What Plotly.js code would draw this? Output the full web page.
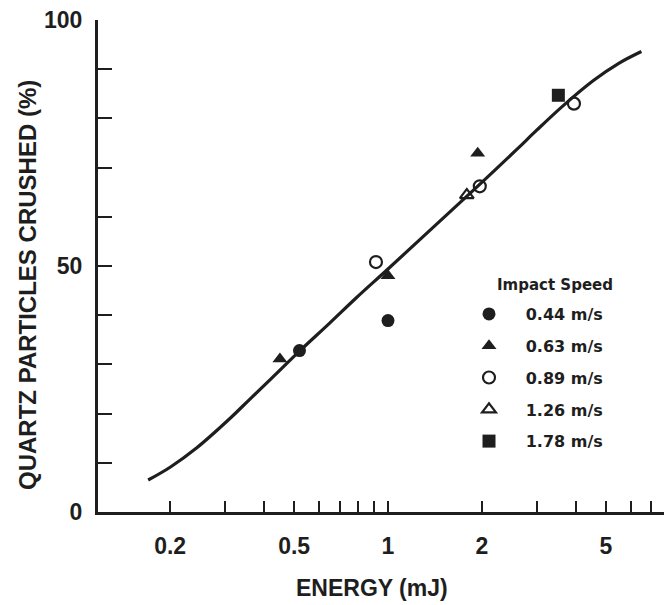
<!DOCTYPE html>
<html><head><meta charset="utf-8">
<script src="https://cdn.plot.ly/plotly-3.0.1.min.js"></script>
<style>body{margin:0;background:#fff}</style>
</head><body><div id="chart" style="width:664px;height:605px"></div>
<script>
// Data
const speedLabels = ["0.44 m/s", "0.63 m/s", "0.89 m/s", "1.26 m/s", "1.78 m/s"];
const energy044 = [0.52, 1.0];
const crushed044 = [32.8, 38.9];
const energy063 = [0.45, 1.0, 1.94];
const crushed063 = [31.1, 48.0, 72.9];
const energy089 = [0.915, 1.97, 3.95];
const crushed089 = [50.8, 66.2, 83.0];
const energy126 = [1.79];
const crushed126 = [64.4];
const energy178 = [3.52];
const crushed178 = [84.7];
const curveEnergy = [0.170, 0.20, 0.243, 0.311, 0.36, 0.43, 0.52, 0.65, 0.79, 1.0, 1.58, 2.0, 2.6, 3.0, 3.65, 4.56, 5.5, 6.5];
const curveCrushed = [6.5, 9.1, 13.0, 19.0, 22.9, 27.6, 32.7, 38.4, 43.5, 49.4, 61.0, 67.0, 73.8, 77.6, 82.6, 87.7, 91.2, 93.6];
const xTickVals = [0.2, 0.3, 0.4, 0.5, 0.6, 0.7, 0.8, 0.9, 1, 2, 3, 4, 5, 6, 7];
const xTickText = ["0.2", "", "", "0.5", "", "", "", "", "1", "2", "", "", "5", "", ""];
const yTickVals = [0, 10, 20, 30, 40, 50, 60, 70, 80, 90, 100];
const yTickText = ["0", "", "", "", "", "50", "", "", "", "", "100"];
const xTitle = "ENERGY (mJ)";
const yTitle = "QUARTZ PARTICLES CRUSHED (%)";
const legendTitle = "Impact Speed";

const ink = "#1e1e1e";
const font = "Liberation Sans, Arial, sans-serif";
const legendFont = "DejaVu Sans, sans-serif";

function markerTrace(x, y, name, symbol, open, group) {
  return {
    x: x, y: y, name: "&nbsp;&nbsp;&nbsp;" + name, type: "scatter", mode: "markers",
    legendgroup: group, cliponaxis: false,
    marker: {
      symbol: symbol, size: open ? 12 : 13,
      color: ink,
      line: {color: ink, width: open ? 2.2 : 0}
    }
  };
}

const traces = [
  {x: curveEnergy, y: curveCrushed, type: "scatter", mode: "lines",
   line: {color: ink, width: 3.2, shape: "spline", smoothing: 1}, showlegend: false, hoverinfo: "skip"},
  markerTrace(energy044, crushed044, speedLabels[0], "circle", false, "a"),
  markerTrace(energy063, crushed063, speedLabels[1], "triangle-up", false, "b"),
  markerTrace(energy089, crushed089, speedLabels[2], "circle-open", true, "c"),
  markerTrace(energy126, crushed126, speedLabels[3], "triangle-up-open", true, "d"),
  markerTrace(energy178, crushed178, speedLabels[4], "square", false, "e")
];

const layout = {
  width: 664, height: 605,
  margin: {l: 98, r: 0, t: 20, b: 93, pad: 0},
  paper_bgcolor: "#fff", plot_bgcolor: "#fff",
  font: {family: font, color: ink},
  showlegend: true,
  legend: {
    x: (469 - 98) / 566, y: (512 - 297) / 492, xanchor: "left", yanchor: "top",
    bgcolor: "rgba(0,0,0,0)", borderwidth: 0,
    traceorder: "grouped", tracegroupgap: 8,
    font: {family: legendFont, size: 16, color: ink, weight: "bold"}
  },
  xaxis: {
    type: "log", range: [-0.9304, 0.8855], autorange: false, automargin: false,
    showgrid: false, zeroline: false,
    showline: true, linecolor: ink, linewidth: 3,
    ticks: "inside", ticklen: 11, tickwidth: 2, tickcolor: ink,
    tickmode: "array", tickvals: xTickVals, ticktext: xTickText,
    tickfont: {family: font, size: 23, color: ink, weight: "bold"},
    ticklabelstandoff: 11
  },
  yaxis: {
    range: [0, 100], autorange: false, automargin: false,
    showgrid: false, zeroline: false,
    showline: true, linecolor: ink, linewidth: 3,
    ticks: "inside", ticklen: 14, tickwidth: 2, tickcolor: ink,
    tickmode: "array", tickvals: yTickVals, ticktext: yTickText,
    tickfont: {family: font, size: 23, color: ink, weight: "bold"},
    ticklabelstandoff: 8
  },
  annotations: [
    {text: xTitle, xref: "paper", yref: "paper", x: (372 - 98) / 566, y: (512 - 588) / 492,
     xanchor: "center", yanchor: "middle", showarrow: false,
     font: {family: font, size: 23, color: ink, weight: "bold"}},
    {text: yTitle, xref: "paper", yref: "paper", x: (27 - 98) / 566, y: (512 - 285) / 492,
     xanchor: "center", yanchor: "middle", showarrow: false, textangle: -90,
     font: {family: font, size: 24, color: ink, weight: "bold"}},
    {text: legendTitle, xref: "paper", yref: "paper", x: (495 - 98) / 566, y: (512 - 285) / 492,
     xanchor: "left", yanchor: "middle", showarrow: false,
     font: {family: legendFont, size: 15, color: ink, weight: "bold"}}
  ]
};

Plotly.newPlot("chart", traces, layout, {displayModeBar: false, staticPlot: true});
</script>
</body></html>
